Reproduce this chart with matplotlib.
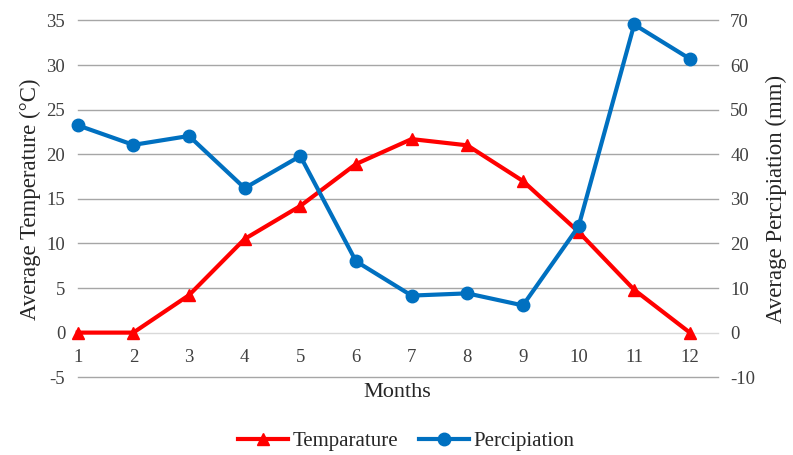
import matplotlib
matplotlib.use("Agg")
import matplotlib.pyplot as plt

months = [1, 2, 3, 4, 5, 6, 7, 8, 9, 10, 11, 12]
temperature = [0.0, 0.0, 4.2, 10.5, 14.2, 18.9, 21.7, 21.0, 17.0, 11.3, 4.8, 0.0]
precipitation = [46.5, 42.1, 44.1, 32.4, 39.6, 16.0, 8.3, 8.8, 6.1, 23.8, 69.1, 61.4]

plt.rcParams['font.family'] = ['Liberation Serif', 'DejaVu Serif']
plt.rcParams['axes.unicode_minus'] = False

fig = plt.figure(figsize=(7.93, 4.55), dpi=100)
ax = fig.add_axes([0.098, 0.171, 0.807, 0.784])
ax2 = ax.twinx()

ax.set_ylim(-5, 35)
ax2.set_ylim(-10, 70)
ax.set_xlim(1, 12.5)
ax.set_yticks(range(-5, 36, 5))
ax2.set_yticks(range(-10, 71, 10))

# horizontal gridlines, the zero line is lighter
for t in range(-5, 36, 5):
    ax.axhline(t, color='#d9d9d9' if t == 0 else '#a6a6a6', lw=1.0, zorder=0, clip_on=False)

l1, = ax.plot(months, temperature, color='#ff0000', lw=3, marker='^', ms=9,
              label='Temparature', zorder=3, clip_on=False)
l2, = ax2.plot(months, precipitation, color='#0070c0', lw=3, marker='o', ms=9,
               label='Percipiation', zorder=3, clip_on=False)

for a in (ax, ax2):
    for s in a.spines.values():
        s.set_visible(False)
    a.tick_params(axis='y', length=0, labelsize=13.5, colors='#404040', pad=9)

# category labels sit along the zero line
ax.spines['bottom'].set_position(('data', 0))
ax.set_xticks(months)
ax.tick_params(axis='x', length=0, labelsize=13.5, colors='#404040', pad=12)

ax.set_ylabel('Average Temperature (°C)', fontsize=16.5, color='#262626', labelpad=4)
ax2.set_ylabel('Average Percipiation (mm)', fontsize=16.5, color='#262626', labelpad=8)
ax.set_xlabel('Months', fontsize=16, color='#262626')
ax.xaxis.set_label_coords(0.5, -0.015)

fig.legend(handles=[l1, l2], loc='center', bbox_to_anchor=(0.512, 0.03), ncol=2,
           frameon=False, fontsize=15, handlelength=2.4, handletextpad=0.2,
           columnspacing=1.0, labelcolor='#262626')

fig.savefig('out.png', dpi=100)
